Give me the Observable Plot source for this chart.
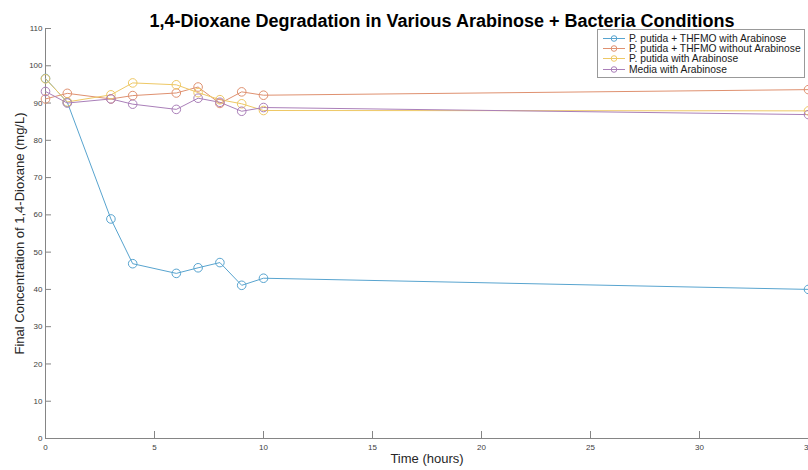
<!DOCTYPE html>
<html><head><meta charset="utf-8">
<script src="https://cdn.jsdelivr.net/npm/d3@7"></script>
<script src="https://cdn.jsdelivr.net/npm/@observablehq/plot@0.6"></script>
<style>
body{margin:0;background:#fff;font-family:"Liberation Sans",Arial,sans-serif;}
#wrap{position:relative;width:808px;height:470px;overflow:hidden;}
#legend{position:absolute;left:597px;top:29px;width:208px;height:49px;border:1px solid #999;background:#fff;box-sizing:border-box;padding-top:3px;}
.row{display:flex;align-items:center;height:10.4px;font-size:10.3px;color:#1a1a1a;white-space:nowrap;}
.row svg{margin-left:5px;margin-right:4px;}
</style></head>
<body><div id="wrap"><div id="chart"></div><div id="legend"></div></div>
<script>
const times = [0, 1, 3, 4, 6, 7, 8, 9, 10, 35];
const seriesNames = [
  "P. putida + THFMO with Arabinose",
  "P. putida + THFMO without Arabinose",
  "P. putida with Arabinose",
  "Media with Arabinose"
];
const thfmoWithAra    = [96.6, 90.2, 58.9, 46.9, 44.3, 45.8, 47.2, 41.1, 43.0, 40.0];
const thfmoWithoutAra = [91.1, 92.6, 91.1, 92.0, 92.7, 94.3, 89.9, 93.0, 92.1, 93.6];
const putidaWithAra   = [96.5, 90.3, 92.2, 95.4, 94.9, 92.8, 90.9, 89.8, 88.0, 87.9];
const mediaWithAra    = [93.1, 90.0, 91.1, 89.7, 88.3, 91.3, 90.2, 87.8, 88.8, 86.9];
const seriesColors = ["#58a4cf", "#df9170", "#eec865", "#aa7fb9"];
const xTicks = [0, 5, 10, 15, 20, 25, 30, 35];
const yTicks = [0, 10, 20, 30, 40, 50, 60, 70, 80, 90, 100, 110];
const titleText = "1,4-Dioxane Degradation in Various Arabinose + Bacteria Conditions";
const xLabel = "Time (hours)";
const yLabel = "Final Concentration of 1,4-Dioxane (mg/L)";

const allValues = [thfmoWithAra, thfmoWithoutAra, putidaWithAra, mediaWithAra];
const data = [];
seriesNames.forEach((name, i) => times.forEach((t, j) => data.push({series: name, time: t, value: allValues[i][j]})));

const axisGray = "#858585";
const chart = Plot.plot({
  width: 808, height: 470,
  marginTop: 28, marginBottom: 32, marginLeft: 45, marginRight: 0,
  style: {fontFamily: "'Liberation Sans', Arial, sans-serif", fontSize: "8px", color: "#404040", background: "#fff"},
  x: {domain: [0, 35]},
  y: {domain: [0, 110]},
  color: {domain: seriesNames, range: seriesColors},
  marks: [
    Plot.ruleX([0], {stroke: axisGray}),
    Plot.ruleY([0], {stroke: axisGray}),
    Plot.tickY(yTicks, {y: d => d, stroke: axisGray, insetRight: 757}),
    Plot.tickX(xTicks, {x: d => d, stroke: axisGray, insetTop: 403}),
    Plot.axisX({ticks: xTicks, tickSize: 0, tickPadding: 6, label: null}),
    Plot.axisY({ticks: yTicks, tickSize: 0, tickPadding: 3, label: null}),
    Plot.line(data, {x: "time", y: "value", z: "series", stroke: "series", strokeWidth: 1}),
    Plot.dot(data, {x: "time", y: "value", stroke: "series", r: 4.3, strokeWidth: 1, fill: "none"}),
    Plot.text([titleText], {text: d => d, frameAnchor: "top", dy: -14, dx: 15, fontSize: 18, fontWeight: "bold", fill: "#000"}),
    Plot.text([xLabel], {text: d => d, frameAnchor: "bottom", dy: 24, fontSize: 13, fill: "#262626"}),
    Plot.text([yLabel], {text: d => d, frameAnchor: "left", textAnchor: "middle", rotate: -90, dx: -26, fontSize: 13, fill: "#262626"})
  ]
});
document.getElementById("chart").appendChild(chart);

const legend = document.getElementById("legend");
seriesNames.forEach((name, i) => {
  const row = document.createElement("div");
  row.className = "row";
  row.innerHTML = `<svg width="22" height="9"><line x1="0" x2="22" y1="4.5" y2="4.5" stroke="${seriesColors[i]}" stroke-width="1"/><circle cx="11" cy="4.5" r="2.8" fill="none" stroke="${seriesColors[i]}"/></svg><span>${name}</span>`;
  legend.appendChild(row);
});
</script>
</body></html>
